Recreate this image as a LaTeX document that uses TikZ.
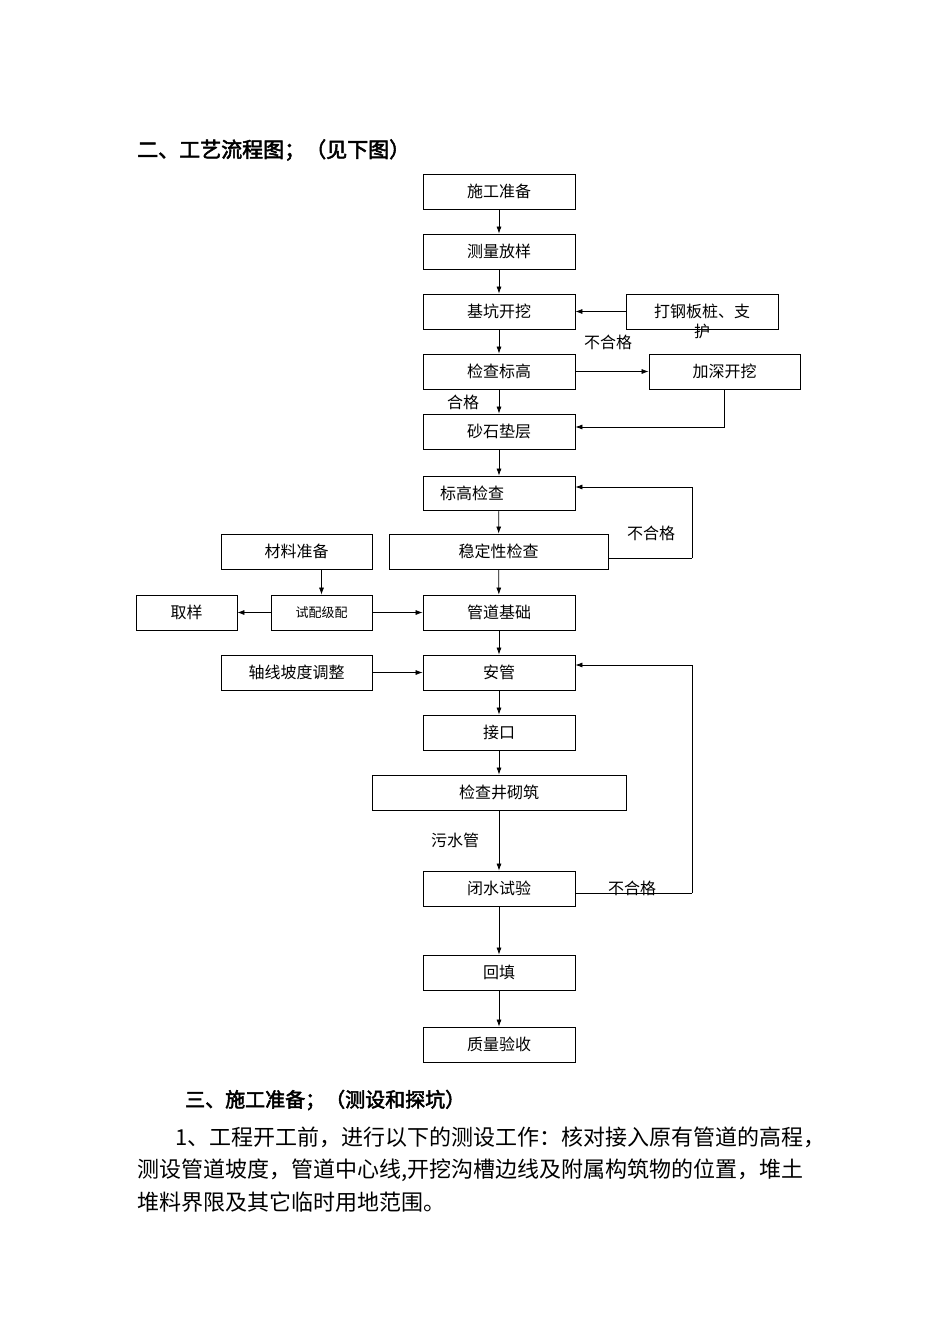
\documentclass[tikz,border=0pt]{standalone}
\usepackage{fontspec}
\setmainfont{Noto Sans CJK SC}
\newfontfamily\hb[FakeBold=2.5]{Noto Sans CJK SC}
\usetikzlibrary{arrows.meta}
\begin{document}
\begin{tikzpicture}[x=1pt,y=-1pt,
 bx/.style={draw,line width=0.8pt,font=\fontsize{16}{18}\selectfont,inner sep=0pt},
 ar/.style={-{Latex[length=7pt,width=5pt]},line width=0.7pt},
 ln/.style={line width=0.7pt},
 lb/.style={font=\fontsize{16}{18}\selectfont,inner sep=0pt}]
\useasboundingbox (0,0) rectangle (950,1344);
\newcommand\bxx[6]{\node[bx,minimum width=#4-#2,minimum height=#5-#3] (#1) at ({(#2+#4)/2},{(#3+#5)/2}) {#6};}
\bxx{a}{423}{174}{575}{209}{施工准备}
\bxx{b}{423}{234}{575}{269}{测量放样}
\bxx{c}{423}{294}{575}{329}{基坑开挖}
\node[bx,minimum width=152,minimum height=35,align=center] (cs) at (702,311.5) {};
\node[lb] at (702,311) {打钢板桩、支};
\node[lb] at (702,331) {护};
\bxx{d}{423}{354}{575}{389}{检查标高}
\bxx{ds}{649}{354}{800}{389}{加深开挖}
\bxx{e}{423}{414}{575}{449}{砂石垫层}
\node[bx,minimum width=152,minimum height=34] (f) at (499,493) {};
\node[lb] at (472,493) {标高检查};
\bxx{g}{389}{534}{608}{569}{稳定性检查}
\bxx{m}{221}{534}{372}{569}{材料准备}
\bxx{q}{136}{595}{237}{630}{取样}
\node[bx,minimum width=101,minimum height=35,font=\fontsize{13}{15}\selectfont] (s) at (321.5,612.5) {试配级配};
\bxx{h}{423}{595}{575}{630}{管道基础}
\bxx{z}{221}{655}{372}{690}{轴线坡度调整}
\bxx{i}{423}{655}{575}{690}{安管}
\bxx{j}{423}{715}{575}{750}{接口}
\bxx{k}{372}{775}{626}{810}{检查井砌筑}
\bxx{l}{423}{871}{575}{906}{闭水试验}
\bxx{n}{423}{955}{575}{990}{回填}
\bxx{o}{423}{1027}{575}{1062}{质量验收}
\foreach \u/\v in {a/b,b/c,c/d,d/e,e/f,f/g,g/h,h/i,i/j,j/k,k/l,l/n,n/o}
  \draw[ar] (\u) -- (\v);
\draw[ar] (cs) -- (c);
\draw[ar] (d) -- (ds);
\draw[ar] (ds.south) |- (e.east |- 0,427);
\coordinate (g1) at (692,558);
\draw[ln] (g.east |- g1) -- (g1);
\draw[ar] (g1) |- (f.east |- 0,487);
\draw[ar] (m.south -| s) -- (s);
\draw[ar] (s) -- (q);
\draw[ar] (s) -- (h);
\draw[ar] (z) -- (i);
\coordinate (l1) at (692,893);
\draw[ln] (l.east |- l1) -- (l1);
\draw[ar] (l1) |- (i.east |- 0,665);
\node[lb] at (608,342) {不合格};
\node[lb] at (463,402) {合格};
\node[lb] at (651,533) {不合格};
\node[lb] at (455,840) {污水管};
\node[lb] at (632,888) {不合格};
\node[anchor=west,inner sep=0pt,font=\hb\fontsize{21}{24}\selectfont] at (137,150) {二、工艺流程图；（见下图）};
\node[anchor=west,inner sep=0pt,font=\hb\fontsize{20}{24}\selectfont] at (185,1100) {三、施工准备；（测设和探坑）};
\begin{scope}[every node/.style={anchor=west,inner sep=0pt,font=\fontsize{22}{24}\selectfont}]
\node at (175,1137) {1、工程开工前，进行以下的测设工作：核对接入原有管道的高程，};
\node at (137,1170) {测设管道坡度，管道中心线,开挖沟槽边线及附属构筑物的位置，堆土};
\node at (137,1202) {堆料界限及其它临时用地范围。};
\end{scope}
\end{tikzpicture}
\end{document}
